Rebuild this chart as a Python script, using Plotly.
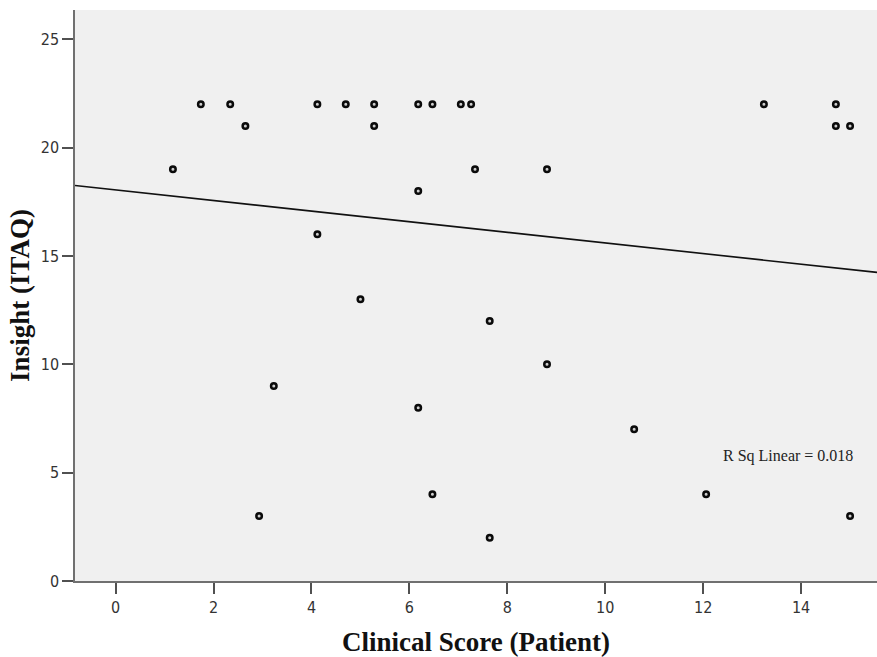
import plotly.graph_objects as go

# Data
clinical_score = [1.17, 1.74, 2.34, 2.65, 2.93, 3.23, 4.12, 4.12, 4.70, 5.00, 5.28, 5.28,
                  6.18, 6.18, 6.18, 6.47, 6.47, 7.05, 7.26, 7.34, 7.64, 7.64, 8.81, 8.81,
                  10.59, 12.06, 13.24, 14.71, 14.71, 15.00, 15.00]
insight = [19, 22, 22, 21, 3, 9, 22, 16, 22, 13, 22, 21,
           22, 18, 8, 22, 4, 22, 22, 19, 12, 2, 19, 10,
           7, 4, 22, 22, 21, 21, 3]

fit_intercept = 18.05
fit_slope = -0.245
r_sq_label = "R Sq Linear = 0.018"

x_range = [-0.83, 15.55]
y_range = [0, 26.35]
x_ticks = [0, 2, 4, 6, 8, 10, 12, 14]
y_ticks = [0, 5, 10, 15, 20, 25]

fig = go.Figure()

fit_x = [x_range[0], x_range[1]]
fit_y = [fit_intercept + fit_slope * v for v in fit_x]
fig.add_trace(go.Scatter(x=fit_x, y=fit_y, mode="lines",
                         line=dict(color="#111111", width=1.6),
                         hoverinfo="skip", showlegend=False))

fig.add_trace(go.Scatter(x=clinical_score, y=insight, mode="markers",
                         marker=dict(symbol="circle", size=5.5, color="#cfcfcf",
                                     line=dict(color="#0a0a0a", width=2.5)),
                         showlegend=False, cliponaxis=False))

fig.add_annotation(x=15.1, y=5.75, xref="x", yref="y", text=r_sq_label,
                   showarrow=False, xanchor="right", yanchor="middle",
                   font=dict(family="Liberation Serif, serif", size=16, color="#222222"))

tick_font = dict(family="Liberation Sans Narrow, DejaVu Sans Condensed, sans-serif",
                 size=16, color="#333333")
title_font = dict(family="Liberation Serif, Times New Roman, serif", size=27, color="#111111")

fig.update_xaxes(range=x_range, tickvals=x_ticks, ticktext=[str(t) for t in x_ticks],
                 showgrid=False, zeroline=False, showline=True, linecolor="#707070",
                 linewidth=1.5, ticks="outside", ticklen=11, tickwidth=1.5, tickcolor="#505050",
                 tickfont=tick_font,
                 title=dict(text="<b>Clinical Score (Patient)</b>", font=title_font, standoff=18))
fig.update_yaxes(range=y_range, tickvals=y_ticks, ticktext=[str(t) for t in y_ticks],
                 showgrid=False, zeroline=False, showline=True, linecolor="#707070",
                 linewidth=1.5, ticks="outside", ticklen=11, tickwidth=1.5, tickcolor="#505050",
                 tickfont=tick_font,
                 title=dict(text="<b>Insight (ITAQ)</b>", font=title_font, standoff=3))

fig.update_layout(width=877, height=657, margin=dict(l=75, r=0, t=10, b=76),
                  plot_bgcolor="#f0f0f0", paper_bgcolor="#ffffff")

fig.write_html("out.html")
